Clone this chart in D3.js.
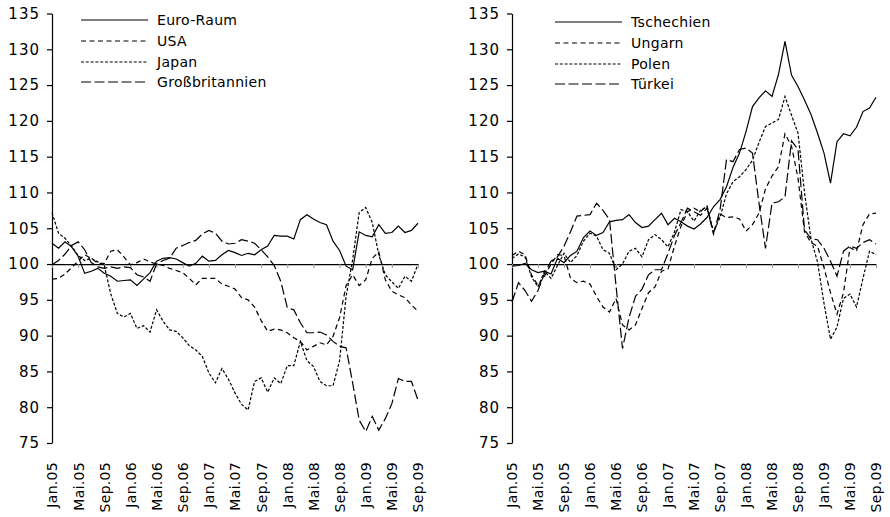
<!DOCTYPE html>
<html>
<head>
<meta charset="utf-8">
<script src="https://cdnjs.cloudflare.com/ajax/libs/d3/7.8.5/d3.min.js"></script>
<style>
  body { margin: 0; background: #fff; }
  svg text { font-family: "DejaVu Sans", sans-serif; font-size: 14px; fill: #000; letter-spacing: 0.3px; }
  svg .y-axis text { font-size: 15px; letter-spacing: 1px; }
</style>
</head>
<body>
<div id="chart"></div>
<script>

// DATA (monthly index, Jan.05 = first point)
const tickLabels = ["Jan.05", "Mai.05", "Sep.05", "Jan.06", "Mai.06", "Sep.06", "Jan.07", "Mai.07",
                    "Sep.07", "Jan.08", "Mai.08", "Sep.08", "Jan.09", "Mai.09", "Sep.09"];
const yTicks = [75, 80, 85, 90, 95, 100, 105, 110, 115, 120, 125, 130, 135];

const euroRaum = [102.9, 102.2, 103.1, 102.4, 101.1, 98.7, 99.0, 99.4, 98.7, 98.3,
  97.6, 97.7, 97.8, 97.0, 97.9, 98.8, 100.4, 100.8, 100.9, 100.7,
  100.2, 99.7, 100.1, 101.1, 100.4, 100.5, 101.3, 101.9, 101.6, 101.2,
  101.5, 101.3, 102.0, 102.5, 104.0, 103.9, 103.9, 103.5, 106.2, 106.9,
  106.3, 105.8, 105.5, 103.2, 101.9, 99.7, 99.2, 104.5, 104.0, 103.8,
  105.5, 104.3, 104.4, 105.3, 104.4, 104.7, 105.7];
const usa = [97.9, 98.0, 98.6, 99.5, 100.4, 101.3, 100.8, 100.1, 100.1, 101.8,
  102.0, 101.0, 99.9, 100.2, 100.7, 100.3, 100.0, 99.8, 99.4, 99.1,
  98.8, 98.0, 97.1, 98.0, 98.0, 98.0, 97.2, 96.9, 96.5, 95.3,
  95.0, 94.0, 92.1, 90.6, 90.9, 90.8, 90.4, 89.7, 89.2, 88.0,
  88.5, 89.0, 88.7, 89.9, 92.5, 97.0, 98.5, 97.0, 97.8, 100.8,
  101.7, 97.8, 96.2, 95.7, 95.3, 94.3, 93.4];
const japan = [107.2, 104.3, 103.6, 102.5, 101.2, 100.5, 100.8, 100.3, 99.8, 95.8,
  93.1, 92.6, 93.1, 91.0, 91.4, 90.5, 93.6, 92.0, 90.8, 90.6,
  89.7, 88.6, 88.0, 87.1, 84.8, 83.4, 85.4, 83.9, 82.0, 80.4,
  79.6, 83.6, 84.1, 82.1, 84.1, 83.3, 85.8, 85.8, 89.2, 86.5,
  85.7, 83.6, 83.0, 83.0, 86.5, 95.5, 100.6, 107.2, 107.9, 105.8,
  101.3, 98.5, 97.5, 96.6, 98.3, 97.6, 100.0];
const grossbritannien = [99.9, 100.5, 101.4, 102.6, 103.1, 102.0, 100.2, 99.6, 99.4, 99.6,
  99.4, 99.6, 99.5, 98.5, 98.2, 97.6, 100.0, 100.5, 100.8, 102.2,
  102.6, 103.0, 103.3, 104.2, 104.7, 104.3, 103.2, 102.8, 102.9, 103.4,
  103.2, 102.9, 102.0, 101.0, 99.8, 97.6, 93.9, 93.6, 91.8, 90.4,
  90.4, 90.5, 90.1, 89.2, 88.5, 88.3, 83.4, 78.2, 76.6, 78.7,
  76.8, 78.4, 80.5, 84.0, 83.6, 83.6, 81.0];

const tschechien = [99.7, 99.8, 100.1, 99.2, 98.8, 99.0, 98.6, 100.8, 100.2, 101.2,
  101.8, 103.7, 104.6, 104.0, 104.4, 105.9, 106.1, 106.2, 106.9, 105.8,
  105.1, 105.3, 106.2, 107.1, 105.5, 106.4, 105.9, 105.3, 104.9, 105.6,
  106.5, 108.0, 109.0, 110.8, 113.5, 115.5, 118.5, 122.0, 123.2, 124.2,
  123.4, 126.5, 131.1, 126.4, 124.8, 122.9, 120.9, 118.3, 115.5, 111.3,
  117.1, 118.2, 117.9, 119.1, 121.3, 121.8, 123.3];
const ungarn = [101.2, 101.8, 101.3, 98.5, 97.0, 98.3, 100.0, 101.3, 101.2, 98.0,
  97.4, 97.6, 97.2, 95.5, 94.0, 93.3, 95.2, 91.5, 90.8, 91.5,
  93.8, 96.0, 96.8, 99.0, 99.3, 102.5, 105.3, 107.3, 107.8, 107.3,
  108.2, 104.2, 107.0, 106.5, 106.6, 106.3, 104.6, 105.5, 107.1, 110.5,
  112.3, 113.6, 118.2, 116.5, 112.0, 104.5, 103.0, 102.5, 99.5, 96.0,
  93.0, 96.0, 102.3, 101.8, 105.5, 107.0, 107.1];
const polen = [100.8, 101.4, 101.0, 98.2, 96.8, 99.0, 98.0, 99.8, 101.5, 100.2,
  101.2, 103.2, 104.3, 103.9, 102.0, 101.5, 99.2, 100.0, 101.8, 102.2,
  101.0, 103.4, 104.1, 103.4, 102.4, 104.5, 107.6, 107.3, 106.0, 107.5,
  108.0, 104.5, 106.5, 109.8, 111.5, 112.2, 113.2, 114.5, 117.0, 119.2,
  119.7, 120.2, 123.4, 120.8, 118.3, 110.0, 103.5, 100.3, 94.5, 89.5,
  91.2, 95.2, 95.8, 94.0, 98.0, 101.8, 101.3];
const tuerkei = [94.7, 97.4, 96.3, 94.8, 96.3, 98.7, 100.4, 101.0, 102.5, 104.5,
  106.7, 106.8, 106.9, 108.5, 107.5, 106.2, 97.0, 88.2, 92.5, 95.5,
  96.5, 98.5, 99.2, 99.2, 101.5, 104.0, 105.8, 107.8, 107.3, 106.8,
  107.8, 104.3, 107.5, 114.6, 114.3, 116.0, 116.2, 115.5, 108.5, 102.2,
  108.5, 108.7, 109.4, 117.2, 116.0, 104.8, 103.5, 103.4, 102.2, 100.4,
  98.3, 101.8, 102.5, 102.2, 103.0, 103.4, 102.8];


// CHART AREA
let svg = d3.select("#chart").append("svg")
    .attr("width", 890)
    .attr("height", 517);

let y = d3.scaleLinear()
    .domain([75, 135])
    .range([443, 13.5]);

// line styles
const dashSolid = null,
      dashMedium = "5,3.5",
      dashFine = "3,1.8",
      dashLong = "10,3.5";

let panels = [
    {
        xRange: [52, 418],
        legendX: 81,
        legendY: [20, 41, 62, 82],
        series: [
            {name: "Euro-Raum", values: euroRaum, dash: dashSolid},
            {name: "USA", values: usa, dash: dashMedium},
            {name: "Japan", values: japan, dash: dashFine},
            {name: "Großbritannien", values: grossbritannien, dash: dashLong}
        ]
    },
    {
        xRange: [512, 876],
        legendX: 555,
        legendY: [22, 43, 64, 84],
        series: [
            {name: "Tschechien", values: tschechien, dash: dashSolid},
            {name: "Ungarn", values: ungarn, dash: dashMedium},
            {name: "Polen", values: polen, dash: dashFine},
            {name: "Türkei", values: tuerkei, dash: dashLong}
        ]
    }
];

panels.forEach(drawPanel);

function drawPanel(p) {

    let n = p.series[0].values.length;
    let x = d3.scaleLinear()
        .domain([0, n - 1])
        .range(p.xRange);

    let tickIdx = d3.range(0, n, 4);

    let g = svg.append("g");

    // ---- Y AXIS ----
    g.append("g")
        .attr("class", "y-axis")
        .attr("transform", "translate(" + p.xRange[0] + ",0)")
        .call(d3.axisLeft(y).tickValues(yTicks).tickSize(5).tickSizeOuter(0).tickPadding(7))
        .call(a => a.selectAll("line, path").attr("stroke", "#000").attr("stroke-width", 1.2));

    // ---- 100 LINE WITH TICKS ----
    g.append("g")
        .attr("transform", "translate(0," + y(100) + ")")
        .call(d3.axisBottom(x).tickValues(tickIdx).tickSize(4).tickSizeOuter(0).tickFormat(""))
        .call(a => a.select(".domain").attr("stroke", "#000").attr("stroke-width", 1.2))
        .call(a => a.selectAll(".tick line").attr("stroke", "#999"));

    // ---- X LABELS ----
    g.append("g")
        .attr("transform", "translate(0,462)")
        .call(d3.axisBottom(x).tickValues(tickIdx).tickSize(0).tickFormat((d, i) => tickLabels[i]))
        .call(a => a.select(".domain").remove())
        .selectAll("text")
        .attr("transform", "rotate(-90)")
        .attr("x", 0)
        .attr("y", 0)
        .attr("dy", "0.35em")
        .style("text-anchor", "end");

    // ---- LINES ----
    let line = d3.line()
        .x((d, i) => x(i))
        .y(d => y(d));

    g.selectAll(".series")
        .data(p.series)
        .enter()
        .append("path")
        .attr("class", "series")
        .attr("d", d => line(d.values))
        .attr("fill", "none")
        .attr("stroke", "#000")
        .attr("stroke-width", 1.2)
        .attr("stroke-dasharray", d => d.dash);

    // ---- LEGEND ----
    let leg = g.selectAll(".legend")
        .data(p.series)
        .enter()
        .append("g")
        .attr("class", "legend")
        .attr("transform", (d, i) => "translate(" + p.legendX + "," + p.legendY[i] + ")");

    leg.append("line")
        .attr("x1", 0)
        .attr("x2", 67)
        .attr("stroke", "#000")
        .attr("stroke-width", 1.2)
        .attr("stroke-dasharray", d => d.dash);

    leg.append("text")
        .attr("x", 76)
        .attr("dy", "0.36em")
        .text(d => d.name);
}

</script>
</body>
</html>
